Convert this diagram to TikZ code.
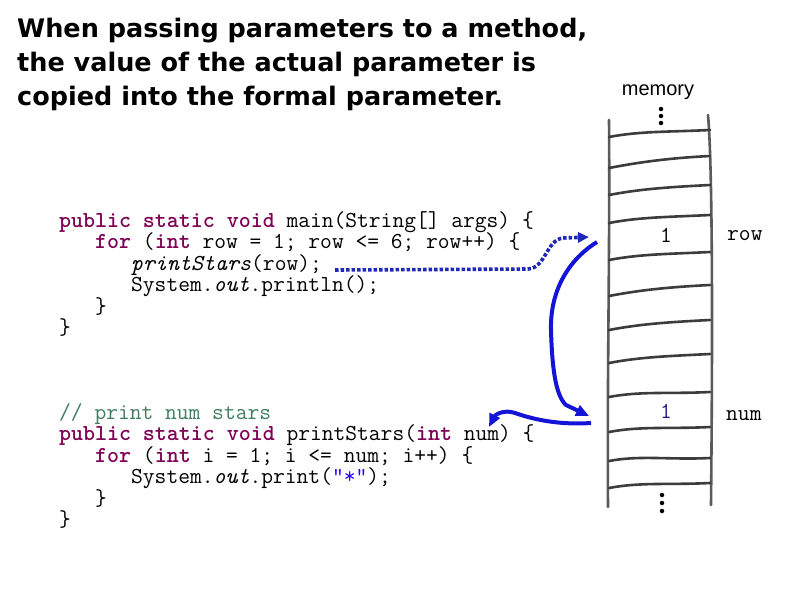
\documentclass[tikz,border=0pt]{standalone}
\usepackage{fontspec}
\newfontfamily\titlefont{DejaVu Sans}
\newfontfamily\memfont{Liberation Sans}
\usetikzlibrary{arrows.meta}
\definecolor{kwc}{HTML}{7F0055}
\definecolor{cmc}{HTML}{3F7F5F}
\definecolor{strc}{HTML}{2A00FF}
\definecolor{navyc}{HTML}{1F1F80}
\definecolor{dotblue}{RGB}{30,40,185}
\definecolor{solblue}{RGB}{20,20,215}
\definecolor{railc}{HTML}{5A5A5A}
\definecolor{rungc}{HTML}{3C3C3C}
\newcommand{\jkw}[1]{\textcolor{kwc}{\textbf{#1}}}
\newcommand{\jcm}[1]{\textcolor{cmc}{#1}}
\newcommand{\jstr}[1]{\textcolor{strc}{#1}}
\begin{document}
\begin{tikzpicture}[x=1pt,y=-1pt,
  titletext/.style={anchor=base west,inner sep=0pt,font=\titlefont\bfseries\fontsize{25.5}{30}\selectfont},
  code/.style={anchor=base west,inner sep=0pt,font=\ttfamily\fontsize{22.86}{25}\selectfont},
  memval/.style={anchor=base,inner sep=0pt,font=\ttfamily\fontsize{22.86}{25}\selectfont},
  memname/.style={anchor=base west,inner sep=0pt,font=\ttfamily\fontsize{22.86}{25}\selectfont},
  rail/.style={draw=railc,line width=2.6pt,line cap=round},
  rung/.style={draw=rungc,line width=2.6pt,line cap=round},
  memdot/.style={fill=black,circle,inner sep=0pt,minimum size=4.5pt},
  dottedarrow/.style={draw=dotblue,line width=3.6pt,dash pattern=on 3.5pt off 2pt,-{Triangle[length=11pt,width=10pt]}},
  solidarrow/.style={draw=solblue,line width=4pt,-{Triangle[length=13pt,width=11pt]}}
]
\useasboundingbox (0,0) rectangle (794,595);
\fill[white] (0,0) rectangle (794,595);

% title
\node[titletext] (t1) at (17,37) {When passing parameters to a method,};
\node[titletext] (t2) at (17,71) {the value of the actual parameter is};
\node[titletext] (t3) at (17,105) {copied into the formal parameter.};

% code block 1
\node[code] (m1) at (59,227) {\jkw{public} \jkw{static} \jkw{void} main(String[] args) \{};
\node[code] (m2) at (95,248.5) {\jkw{for} (\jkw{int} row = 1; row <= 6; row++) \{};
\node[code] (m3) at (131,270) {\textit{printStars}(row);};
\node[code] (m4) at (131,291.5) {System.\textit{out}.println();};
\node[code] (m5) at (95,313) {\}};
\node[code] (m6) at (59,334.5) {\}};

% code block 2
\node[code] (p1) at (59,419) {\jcm{// print num stars}};
\node[code] (p2) at (59,440.5) {\jkw{public} \jkw{static} \jkw{void} printStars(\jkw{int} num) \{};
\node[code] (p3) at (95,462) {\jkw{for} (\jkw{int} i = 1; i <= num; i++) \{};
\node[code] (p4) at (131,483.5) {System.\textit{out}.print(\jstr{"*"});};
\node[code] (p5) at (95,505) {\}};
\node[code] (p6) at (59,526.5) {\}};

% memory
\node[anchor=base,inner sep=0pt,font=\memfont\fontsize{20}{23}\selectfont] (memlabel) at (658,95) {memory};
\draw[rail] (609,120) .. controls (610,250) and (607,380) .. (608,507);
\draw[rail] (708,115) .. controls (712,160) and (713,300) .. (711,505);
\foreach \yl/\yr in {137/130,168/156,195/185,223/215,260/252,296/285,330/320,363/354,397/392,432/427,461/458,488/483}{
  \draw[rung] (609,\yl) .. controls (640,\yl-6) and (670,\yr+2) .. (710,\yr);
}
\node[memdot] (d1) at (661,109) {};
\node[memdot] (d2) at (661,116) {};
\node[memdot] (d3) at (661,123) {};
\node[memdot] (d4) at (662,495) {};
\node[memdot] (d5) at (662,503) {};
\node[memdot] (d6) at (662,511) {};

\node[memval] (rowval) at (666,242) {1};
\node[memname] (rowname) at (727,240) {row};
\node[memval,text=navyc] (numval) at (666,418) {1};
\node[memname] (numname) at (726,420) {num};

% connectors
\coordinate (callend) at (335,270);
\coordinate (rowcell) at (589,237);
\coordinate (rowout) at (597,242);
\coordinate (numcell) at (589,416);
\coordinate (numout) at (591,423);
\coordinate (numparam) at (489,427);
\draw[dottedarrow] (callend) -- (528,269) .. controls (546,268) and (546,240) .. (563,238) -- (rowcell);
\draw[solidarrow] (rowout) .. controls (565,262) and (550,295) .. (551,330) .. controls (552,365) and (555,395) .. (566,405) -- (numcell);
\draw[solidarrow] (numout) .. controls (560,425) and (535,420) .. (515,413) .. controls (504,409) and (495,415) .. (numparam);
\end{tikzpicture}
\end{document}
